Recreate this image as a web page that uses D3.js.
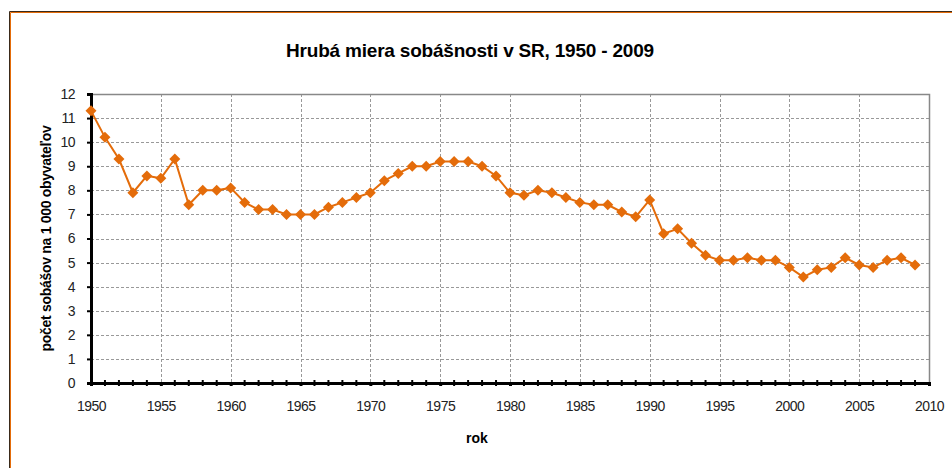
<!DOCTYPE html>
<html>
<head>
<meta charset="utf-8">
<script src="https://cdn.jsdelivr.net/npm/d3@7"></script>
<style>
  body { margin: 0; background: #fff; }
  svg { display: block; font-family: "Liberation Sans", Arial, sans-serif; }
</style>
</head>
<body>
<svg id="chart" width="952" height="468"></svg>
<script>
// chart values
const years = d3.range(1950, 2010);
const rates = [
  11.3, 10.2, 9.3, 7.9, 8.6, 8.5, 9.3, 7.4, 8.0, 8.0,
  8.1, 7.5, 7.2, 7.2, 7.0, 7.0, 7.0, 7.3, 7.5, 7.7,
  7.9, 8.4, 8.7, 9.0, 9.0, 9.2, 9.2, 9.2, 9.0, 8.6,
  7.9, 7.8, 8.0, 7.9, 7.7, 7.5, 7.4, 7.4, 7.1, 6.9,
  7.6, 6.2, 6.4, 5.8, 5.3, 5.1, 5.1, 5.2, 5.1, 5.1,
  4.8, 4.4, 4.7, 4.8, 5.2, 4.9, 4.8, 5.1, 5.2, 4.9
];
const xTicks = d3.range(1950, 2011, 5);
const yTicks = d3.range(0, 13, 1);
const title = "Hrubá miera sobášnosti v SR, 1950 - 2009";
const xTitle = "rok";
const yTitle = "počet sobášov na 1 000 obyvateľov";

const svg = d3.select("#chart");
const plot = { left: 91, right: 929, top: 94, bottom: 383 };
const orange = "#E46C0A";

const x = d3.scaleLinear().domain([1950, 2010]).range([plot.left, plot.right]);
const y = d3.scaleLinear().domain([0, 12]).range([plot.bottom, plot.top]);

// outer frame (only top and left edges are visible)
svg.append("path")
    .attr("d", "M9.5,468 V11.5 H952")
    .attr("fill", "none").attr("stroke", "#3a2a1a").attr("stroke-width", 1);
svg.append("path")
    .attr("d", "M10.5,468 V12.5 H952")
    .attr("fill", "none").attr("stroke", orange).attr("stroke-width", 1);

// title
svg.append("text")
    .attr("x", 470).attr("y", 57)
    .attr("text-anchor", "middle")
    .attr("font-size", 19).attr("font-weight", "bold")
    .attr("letter-spacing", -0.2)
    .text(title);

// gridlines
const grid = svg.append("g");
grid.selectAll(".hgrid").data(yTicks.filter(d => d > 0 && d < 12)).join("line")
    .attr("x1", plot.left).attr("x2", plot.right)
    .attr("y1", d => Math.round(y(d)) + 0.5).attr("y2", d => Math.round(y(d)) + 0.5)
    .attr("stroke", "#999").attr("stroke-dasharray", "3,2");
grid.selectAll(".vgrid").data(xTicks.filter(d => d > 1950 && d < 2010)).join("line")
    .attr("x1", d => Math.round(x(d)) + 0.5).attr("x2", d => Math.round(x(d)) + 0.5)
    .attr("y1", plot.top).attr("y2", plot.bottom)
    .attr("stroke", "#999").attr("stroke-dasharray", "3,2");

// plot area border (top and right)
svg.append("path")
    .attr("d", `M${plot.left},${plot.top + 0.5} H${plot.right + 0.5} V${plot.bottom}`)
    .attr("fill", "none").attr("stroke", "#888").attr("stroke-width", 1.5);

// y axis
const yAxis = svg.append("g")
    .attr("transform", `translate(${plot.left},0)`)
    .call(d3.axisLeft(y).tickValues(yTicks).tickSize(4).tickPadding(12));
yAxis.select(".domain").attr("stroke", "#000").attr("stroke-width", 3);
yAxis.selectAll(".tick line").attr("stroke", "#000").attr("stroke-width", 2);
yAxis.selectAll(".tick text")
    .attr("font-size", 14).attr("fill", "#222").attr("letter-spacing", -0.5);

// x axis
const xAxis = svg.append("g")
    .attr("transform", `translate(0,${plot.bottom})`)
    .call(d3.axisBottom(x).tickValues(xTicks).tickFormat(d3.format("d")).tickSize(3).tickPadding(15));
xAxis.select(".domain").attr("stroke", "#000").attr("stroke-width", 3);
xAxis.selectAll(".tick line").attr("stroke", "#000").attr("stroke-width", 3);
xAxis.selectAll(".tick text")
    .attr("font-size", 14).attr("fill", "#222").attr("letter-spacing", -0.5);

// minor year ticks on the x axis
svg.append("g").selectAll("line").data(d3.range(1951, 2010).filter(d => d % 5 !== 0)).join("line")
    .attr("x1", d => x(d)).attr("x2", d => x(d))
    .attr("y1", plot.bottom - 3).attr("y2", plot.bottom + 3)
    .attr("stroke", "#000").attr("stroke-width", 2);

// axis titles
svg.append("text")
    .attr("x", 477).attr("y", 443)
    .attr("text-anchor", "middle")
    .attr("font-size", 14).attr("font-weight", "bold")
    .text(xTitle);
svg.append("text")
    .attr("transform", `translate(51,${(plot.top + plot.bottom) / 2}) rotate(-90)`)
    .attr("text-anchor", "middle")
    .attr("font-size", 14).attr("font-weight", "bold")
    .attr("letter-spacing", -0.3)
    .text(yTitle);

// series line and diamond markers
const data = years.map((yr, i) => ({ year: yr, value: rates[i] }));
svg.append("path")
    .datum(data)
    .attr("fill", "none")
    .attr("stroke", orange)
    .attr("stroke-width", 2)
    .attr("d", d3.line().x(d => x(d.year)).y(d => y(d.value)));

svg.append("g").selectAll("path").data(data).join("path")
    .attr("transform", d => `translate(${x(d.year)},${y(d.value)})`)
    .attr("d", "M0,-5.5 L5.5,0 L0,5.5 L-5.5,0 Z")
    .attr("fill", orange);
</script>
</body>
</html>
